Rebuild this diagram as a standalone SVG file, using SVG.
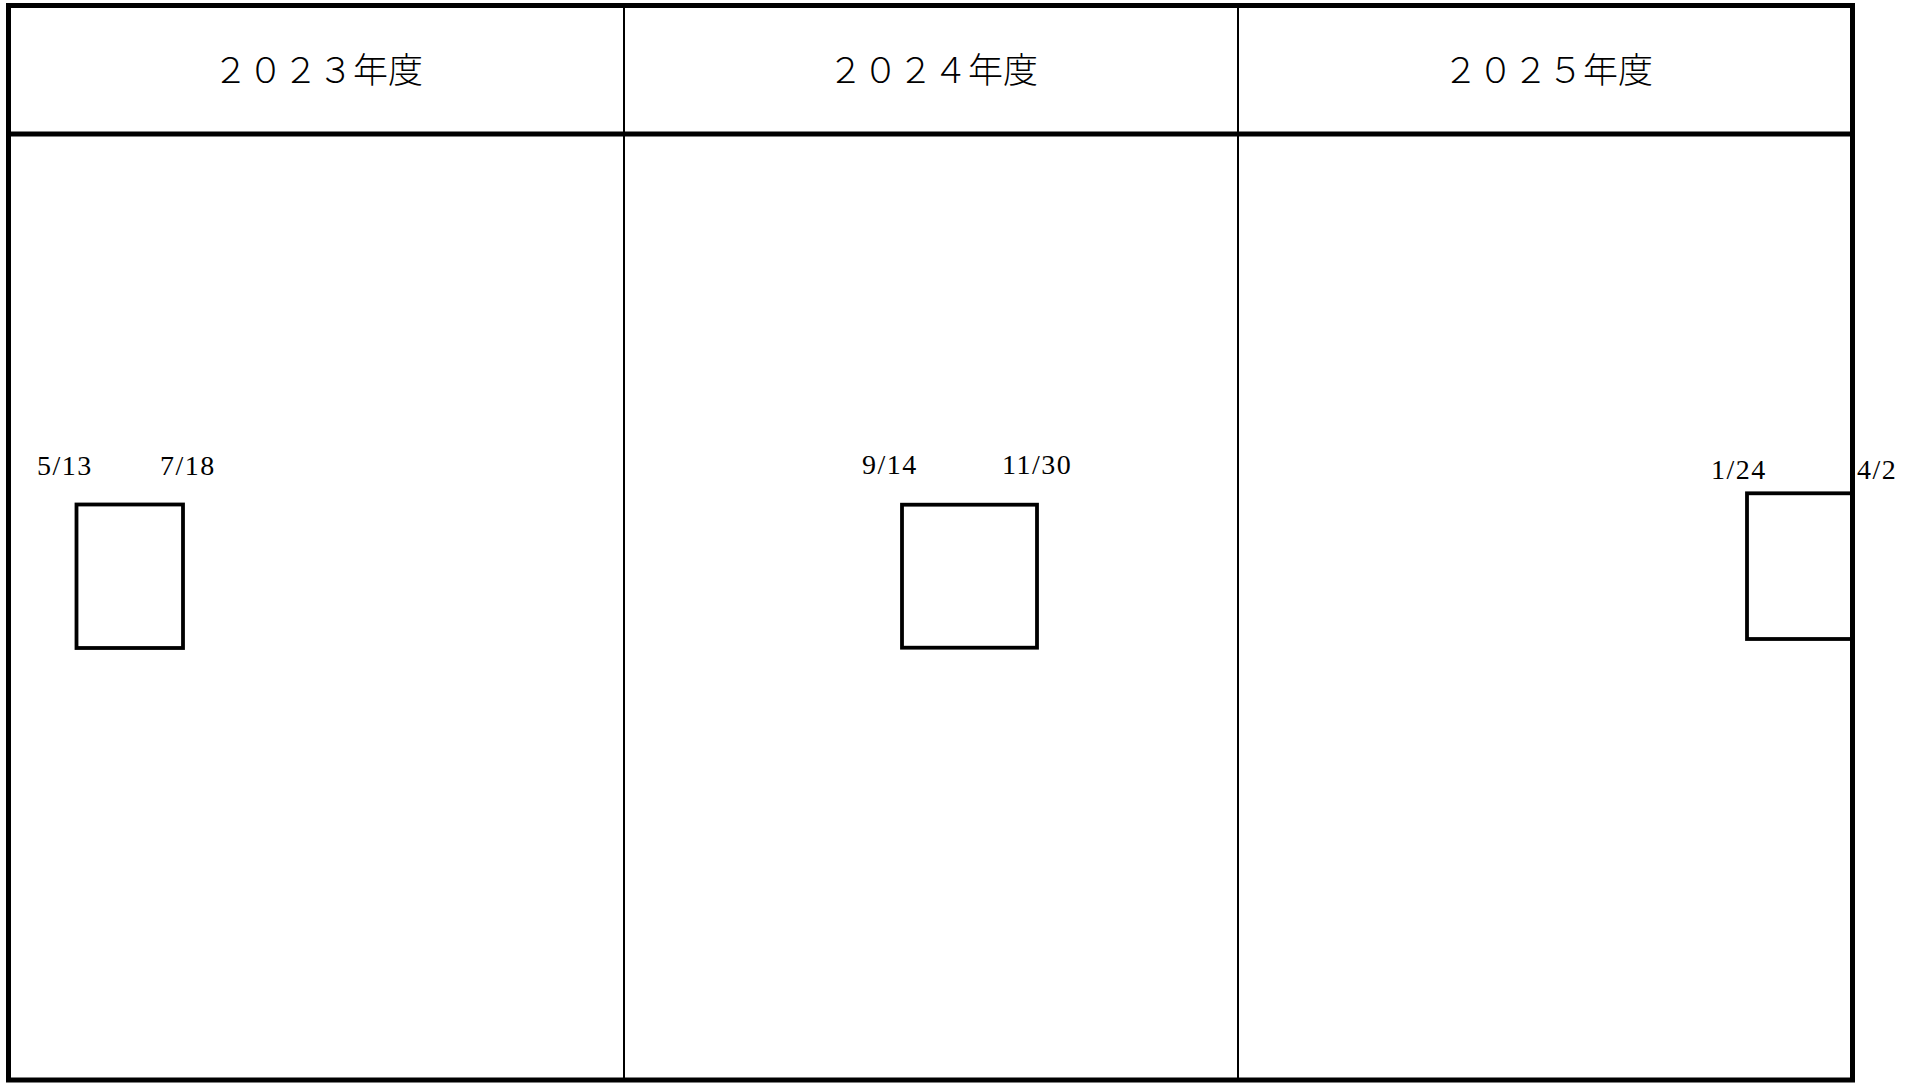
<svg xmlns="http://www.w3.org/2000/svg" width="1919" height="1083" viewBox="0 0 1919 1083">
<style>
.frame{fill:none;stroke:#000;stroke-width:5}
.thin{stroke:#000;stroke-width:2}
.thick{stroke:#000;stroke-width:5}
.box{fill:none;stroke:#000;stroke-width:3.8}
.hdr{font-family:"Liberation Serif","Noto Sans CJK JP",serif;font-size:35px;font-weight:300;fill:#000;text-anchor:middle}
.date{font-family:"Liberation Serif","Noto Sans CJK JP",serif;font-size:28px;letter-spacing:1.5px;fill:#000}
</style>
<rect width="1919" height="1083" fill="#fff"/>
<g id="table">
<rect class="frame" x="8.5" y="5.5" width="1844" height="1074.5"/>
<line class="thick" x1="8.5" y1="134" x2="1852.5" y2="134"/>
<line class="thin" x1="624" y1="5.5" x2="624" y2="1080"/>
<line class="thin" x1="1238" y1="5.5" x2="1238" y2="1080"/>
</g>
<g id="header-2023"><text class="hdr" x="318" y="83">２０２３年度</text></g>
<g id="header-2024"><text class="hdr" x="933" y="83">２０２４年度</text></g>
<g id="header-2025"><text class="hdr" x="1548" y="83">２０２５年度</text></g>
<g id="period-1">
<rect class="box" x="76.5" y="504.5" width="106.5" height="143.5"/>
<text class="date" x="37" y="475">5/13</text>
<text class="date" x="160" y="475">7/18</text>
</g>
<g id="period-2">
<rect class="box" x="902" y="504.7" width="135" height="143"/>
<text class="date" x="862" y="474">9/14</text>
<text class="date" x="1002" y="474">11/30</text>
</g>
<g id="period-3">
<rect class="box" x="1747" y="493.3" width="105.5" height="145.7"/>
<text class="date" x="1711" y="479">1/24</text>
<text class="date" x="1857" y="479">4/2</text>
</g>
<g id="connectors"></g>
</svg>
